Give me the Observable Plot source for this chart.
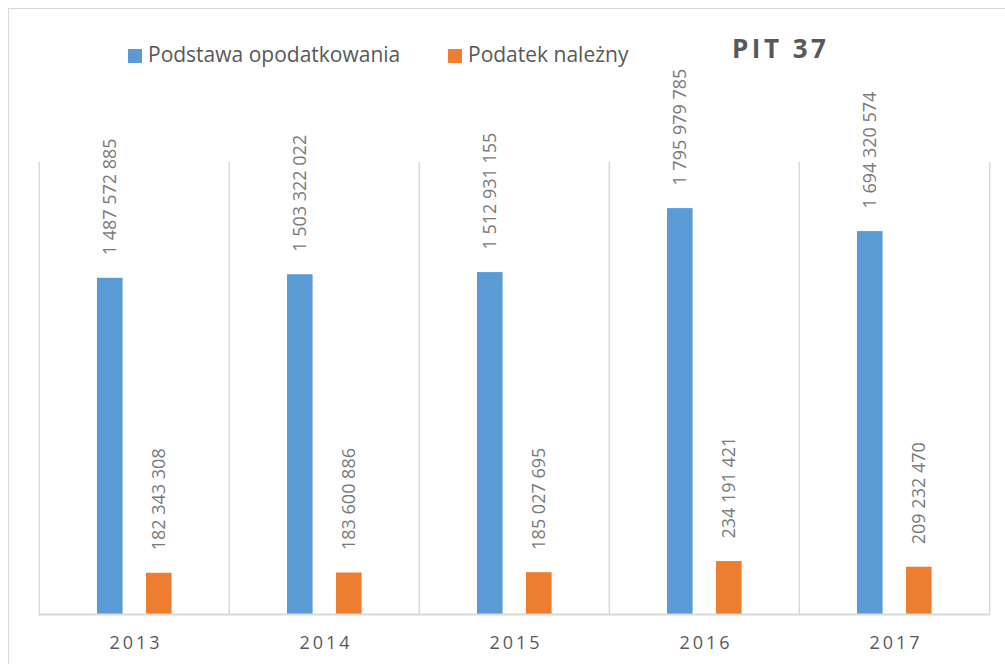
<!DOCTYPE html>
<html>
<head>
<meta charset="utf-8">
<script src="https://cdn.jsdelivr.net/npm/d3@7"></script>
<script src="https://cdn.jsdelivr.net/npm/@observablehq/plot@0.6"></script>
<style>
  html, body { margin: 0; padding: 0; background: #fff; }
  body { width: 1005px; height: 664px; overflow: hidden; position: relative; font-family: "Open Sans", sans-serif; }
  #border { position: absolute; left: 8px; top: 8px; width: 1020px; height: 700px; border-left: 1.5px solid #d9d9d9; border-top: 1.5px solid #d9d9d9; pointer-events: none; z-index: 5; }
  #header { position: relative; height: 60px; }
  .sw { position: absolute; width: 14px; height: 14px; top: 49px; }
  .lt { position: absolute; font-size: 21px; line-height: 1; color: #595959; top: 44px; white-space: nowrap; }
  #title { position: absolute; left: 732px; top: 35px; font-size: 26px; line-height: 1; font-weight: bold; color: #595959; letter-spacing: 3.5px; white-space: nowrap; }
  #chart svg { display: block; }
</style>
</head>
<body>
<div id="border"></div>
<div id="header"></div>
<div id="chart"></div>
<script>
const years = ["2013", "2014", "2015", "2016", "2017"];
const podstawa = [1487572885, 1503322022, 1512931155, 1795979785, 1694320574];
const podatek = [182343308, 183600886, 185027695, 234191421, 209232470];
const seriesNames = ["Podstawa opodatkowania", "Podatek należny"];
const seriesColors = ["#5b9bd5", "#ed7d31"];
const titleText = "PIT 37";

const data = years.flatMap((y, i) => [
  {year: y, series: seriesNames[0], value: podstawa[i]},
  {year: y, series: seriesNames[1], value: podatek[i]}
]);
const fmt = v => d3.format(",")(v).replace(/,/g, " ");

// header: legend + title
const header = document.getElementById("header");
const legendPos = [{sw: 128, tx: 148}, {sw: 448, tx: 468}];
seriesNames.forEach((name, i) => {
  const sw = document.createElement("div");
  sw.className = "sw";
  sw.style.left = legendPos[i].sw + "px";
  sw.style.background = seriesColors[i];
  header.appendChild(sw);
  const t = document.createElement("div");
  t.className = "lt";
  t.style.left = legendPos[i].tx + "px";
  t.textContent = name;
  header.appendChild(t);
});
const title = document.createElement("div");
title.id = "title";
title.textContent = titleText;
header.appendChild(title);

const s0 = data.filter(d => d.series === seriesNames[0]);
const s1 = data.filter(d => d.series === seriesNames[1]);

const plot = Plot.plot({
  width: 1005,
  height: 604,
  marginLeft: 38,
  marginRight: 15,
  marginTop: 102,
  marginBottom: 50,
  style: {fontFamily: "Open Sans", background: "transparent", overflow: "visible"},
  x: {domain: years, padding: 0, axis: null},
  y: {domain: [0, 2000000000], axis: null},
  color: {domain: seriesNames, range: seriesColors},
  marks: [
    Plot.ruleX(years, {x: d => d, dx: -95.2, y1: 0, y2: 2000000000, stroke: "#d9d9d9", strokeWidth: 1.5}),
    Plot.ruleX(years.slice(-1), {x: d => d, dx: 95.2, y1: 0, y2: 2000000000, stroke: "#d9d9d9", strokeWidth: 1.5}),
    Plot.barY(s0, {x: "year", y: "value", fill: "series", insetLeft: 58, insetRight: 106.4}),
    Plot.barY(s1, {x: "year", y: "value", fill: "series", insetLeft: 107, insetRight: 57.4}),
    Plot.ruleY([0], {stroke: "#d9d9d9", strokeWidth: 2}),
    Plot.text(s0, {x: "year", y: "value", text: d => fmt(d.value), rotate: -90, textAnchor: "start", dx: -24, dy: -23, fontSize: 18, fill: "#7a7a7a"}),
    Plot.text(s1, {x: "year", y: "value", text: d => fmt(d.value), rotate: -90, textAnchor: "start", dx: 25, dy: -23, fontSize: 18, fill: "#7a7a7a"}),
    Plot.text(years, {x: d => d, y: 0, dy: 29, dx: 1.5, text: d => d, fontSize: 18, fill: "#595959"})
  ]
});
document.getElementById("chart").appendChild(plot);
d3.select(plot).selectAll("text")
  .filter(function() { return years.includes(this.textContent); })
  .style("letter-spacing", "3px");
</script>
</body>
</html>
